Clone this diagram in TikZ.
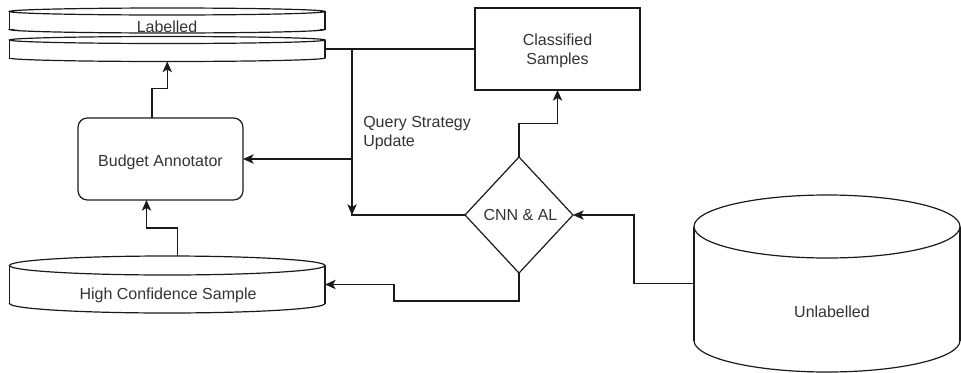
\documentclass[tikz,border=0pt]{standalone}
\usepackage{fontspec}
\setmainfont{Liberation Sans}
\usetikzlibrary{arrows.meta,calc}
\definecolor{ln}{HTML}{1A1A1A}
\definecolor{tx}{HTML}{333333}
\tikzset{
  line/.style={draw=ln, line width=0.9pt},
  arr/.style={line, -{Stealth[length=8pt,width=7pt,inset=2pt]}},
  lbl/.style={text=tx, font=\fontsize{12}{14.4}\selectfont, inner sep=0pt},
  area/.style={inner sep=0pt, outer sep=0pt},
  boxnode/.style={line, area, minimum width=123.75pt, minimum height=61.5pt},
}
% x1 y1 x2 y2 ry   (pixel coordinates, y downwards)
\newcommand\drawcyl[5]{%
  \pgfmathsetmacro\cylcx{(#1+#3)/2}%
  \pgfmathsetmacro\cylrx{(#3-#1)/2}%
  \draw[line] (\cylcx,#2+#5) ellipse [x radius=\cylrx, y radius=#5];
  \draw[line] (#1,#2+#5) -- (#1,#4-#5);
  \draw[line] (#3,#2+#5) -- (#3,#4-#5);
  \begin{scope}
    \clip (#1-3,#4-#5) rectangle (#3+3,#4+3);
    \draw[line] (\cylcx,#4-#5) ellipse [x radius=\cylrx, y radius=#5];
  \end{scope}}
\begin{document}
\begin{tikzpicture}[x=0.75pt,y=-0.75pt]
\useasboundingbox (0,0) rectangle (961,372);

% cylinders
\drawcyl{9.5}{8}{325}{33}{3.5}
\drawcyl{9.5}{36.5}{325}{61.5}{3.5}
\drawcyl{9.5}{256}{325}{313}{9.5}
\drawcyl{694}{195}{960}{372}{31.5}

% anchor areas
\node[area, minimum width=236.6pt, minimum height=18.75pt] (lab1) at (167.25,20.5) {};
\node[area, minimum width=236.6pt, minimum height=18.75pt] (lab2) at (167.25,49) {};
\node[area, minimum width=236.6pt, minimum height=42.75pt] (hcs) at (167.25,284.5) {};
\node[area, minimum width=199.5pt, minimum height=132.75pt] (unl) at (827,283.5) {};
\node[area, minimum width=81pt, minimum height=87pt] (cnn) at (519,215) {};
\draw[line] (cnn.north) -- (cnn.east) -- (cnn.south) -- (cnn.west) -- cycle;

\node[boxnode, rounded corners=7pt] (ba) at (160.5,159) {};
\node[boxnode] (cs) at (557.5,49) {};

% texts
\node[lbl, anchor=base] (labtxt) at (167,32.5) {Labelled};
\node[lbl, anchor=base] (batxt) at (160.5,166) {Budget Annotator};
\node[lbl, anchor=base] (hcstxt) at (168,299) {High Confidence Sample};
\node[lbl, anchor=base] (unltxt) at (832,317) {Unlabelled};
\node[lbl, anchor=base] (cnntxt) at (520.5,220.7) {CNN \& AL};
\node[lbl, align=center] (cstxt) at (557.5,50.5) {Classified\\Samples};
\node[lbl, anchor=north west, align=left] (qsu) at (363,116) {Query Strategy\\Update};

% connectors
\coordinate (j1) at (352,49);
\coordinate (j2) at (352,215);
\coordinate (k1) at (394,301);
\coordinate (k2) at (634,215);

\draw[line] (lab2.east) -- (cs.west);
\draw[arr] (j1) -- (j2);
\draw[arr] (cnn.west) -- (j2) |- (ba.east);
\draw[arr] ($(ba.north)+(-8.5,0)$) -- ++(0,-29.5) -| (lab2.south);
\draw[arr] ($(hcs.north)+(10,0)$) -- ++(0,-28) -| ($(ba.south)+(-14,0)$);
\draw[arr] (cnn.north) -- ++(0,-33.5) -| (cs.south);
\draw[arr] (cnn.south) |- (k1) |- (hcs.east);
\draw[arr] (unl.west) -| (k2) -- (cnn.east);
\end{tikzpicture}
\end{document}
